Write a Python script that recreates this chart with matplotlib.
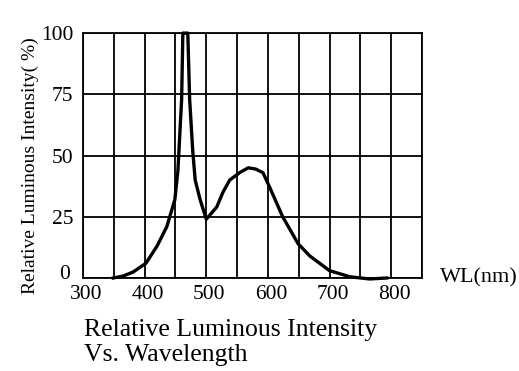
import matplotlib.pyplot as plt
from matplotlib.transforms import ScaledTranslation

# spectrum
wavelength = [349, 365, 381, 402, 420, 436, 449, 454, 460, 462, 466, 470, 473,
              478, 482, 490, 500, 517, 527, 538, 554, 568, 580, 592, 603, 624,
              649, 668, 700, 733, 765, 793]
intensity = [0, 0.8, 2.4, 6, 13, 21, 32, 44, 73, 100, 100, 100, 73,
             52, 40, 32, 24, 29, 35, 40, 43, 45, 44.5, 43, 37, 25,
             14, 9, 3, 0.5, -0.4, 0]

x_ticks = [300, 400, 500, 600, 700, 800]
y_ticks = [0, 25, 50, 75, 100]
x_grid = list(range(300, 851, 50))

plt.rcParams['font.family'] = ['Liberation Serif', 'DejaVu Serif']

fig = plt.figure(figsize=(5.19, 3.71), dpi=100)
ax = fig.add_axes([0.160, 0.2507, 0.653, 0.660])

for gx in x_grid:
    ax.axvline(gx, color='black', lw=1.3, zorder=1)
for gy in y_ticks:
    ax.axhline(gy, color='black', lw=1.3, zorder=1)

ax.plot(wavelength, intensity, color='black', lw=2.4, zorder=3, clip_on=False)

ax.set_xlim(300, 850)
ax.set_ylim(0, 100)
ax.set_xticks(x_ticks)
ax.set_yticks(y_ticks)
ax.tick_params(length=0, labelsize=15.5)
ax.tick_params(axis='x', pad=5)
ax.tick_params(axis='y', pad=7)
shift = ScaledTranslation(3 / 100, 0, fig.dpi_scale_trans)
for lbl in ax.get_xticklabels():
    lbl.set_transform(lbl.get_transform() + shift)
# the zero label sits a little higher than its grid line
zero_lbl = ax.get_yticklabels()[0]
zero_lbl.set_transform(zero_lbl.get_transform()
                       + ScaledTranslation(-3 / 100, 6 / 100, fig.dpi_scale_trans))
for sp in ax.spines.values():
    sp.set_linewidth(1.3)

ax.set_ylabel('Relative Luminous Intensity( %)', fontsize=14)
ax.yaxis.set_label_coords(-0.13, 0.46)
fig.text(0.848, 0.25, 'WL(nm)', fontsize=16, va='center', ha='left')
fig.text(0.162, 0.110, 'Relative Luminous Intensity', fontsize=18.5, va='center', ha='left')
fig.text(0.162, 0.043, 'Vs. Wavelength', fontsize=18.5, va='center', ha='left')

fig.savefig('out.png', dpi=100)
